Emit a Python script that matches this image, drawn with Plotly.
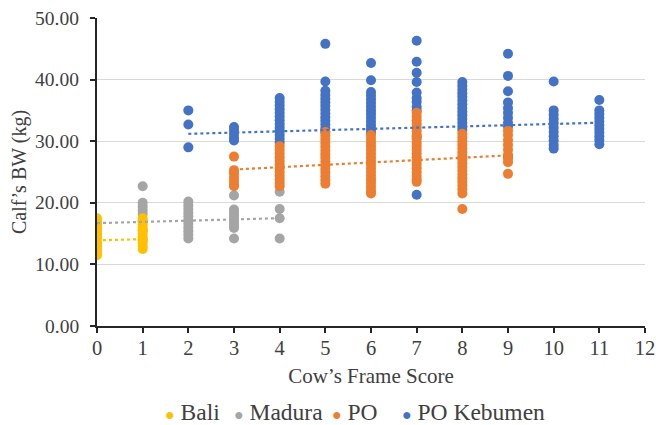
import plotly.graph_objects as go

# ---- data ----
bali_fs = [0, 1]
bali_bw = [
    [17.5, 17.0, 16.5, 16.0, 15.5, 15.0, 14.5, 14.0, 13.5, 13.0, 12.5, 12.0, 11.5],
    [17.5, 17.0, 16.5, 16.0, 15.5, 15.0, 14.5, 14.0, 13.5, 13.0, 12.5],
]

madura_fs = [0, 1, 2, 3, 4]
madura_bw = [
    [16.5, 15.5, 14.5, 13.5],
    [22.7, 20.0, 19.4, 18.8, 18.2, 17.0, 15.5, 14.0],
    [20.2, 19.6, 19.0, 18.4, 17.8, 17.2, 16.6, 16.0, 15.4, 14.8, 14.2],
    [21.2, 18.9, 18.4, 17.9, 17.4, 16.9, 16.4, 15.9, 14.2],
    [21.8, 19.0, 17.5, 14.2],
]

po_fs = [3, 4, 5, 6, 7, 8, 9]
po_bw = [
    [27.5, 25.3, 24.8, 24.2, 23.6, 23.0, 22.7],
    [29.2, 28.6, 28.0, 27.4, 26.8, 26.2, 25.6, 25.0, 24.4, 23.8, 23.2, 22.7],
    [31.5, 30.9, 30.3, 29.7, 29.1, 28.5, 27.9, 27.3, 26.7, 26.1, 25.5, 24.9, 24.3, 23.7, 23.1],
    [31.0, 30.4, 29.8, 29.2, 28.6, 28.0, 27.4, 26.8, 26.2, 25.6, 25.0, 24.4, 23.8, 23.2, 22.6, 22.0, 21.5],
    [34.6, 34.0, 33.4, 32.8, 32.2, 31.6, 31.0, 30.4, 29.8, 29.2, 28.6, 28.0, 27.4, 26.8, 26.2, 25.6, 25.0, 24.4, 23.8, 23.4],
    [31.2, 30.6, 30.0, 29.4, 28.8, 28.2, 27.6, 27.0, 26.4, 25.8, 25.2, 24.6, 24.0, 23.4, 22.8, 22.2, 21.5, 19.0],
    [31.7, 31.0, 30.2, 29.4, 28.6, 27.8, 27.2, 26.6, 24.7],
]

keb_fs = [2, 3, 4, 5, 6, 7, 8, 9, 10, 11]
keb_bw = [
    [35.0, 32.7, 29.0],
    [32.3, 31.8, 31.2, 30.6, 30.1],
    [37.0, 36.4, 35.8, 35.2, 34.6, 34.0, 33.4, 32.8, 32.2, 31.6, 31.0, 30.4, 29.8],
    [45.8, 39.7, 38.2, 37.5, 36.9, 36.3, 35.7, 35.1, 34.5, 33.9, 33.3, 32.7, 32.1, 31.5],
    [42.7, 39.9, 38.0, 37.4, 36.8, 36.2, 35.6, 35.0, 34.4, 33.8, 33.2, 32.6, 32.0, 31.4],
    [46.3, 42.9, 41.1, 39.6, 37.9, 37.0, 36.4, 35.6, 35.0, 30.7, 21.3],
    [39.6, 39.0, 38.4, 37.8, 37.2, 36.6, 36.0, 35.4, 34.8, 34.2, 33.6, 33.0, 32.4, 31.8],
    [44.2, 40.6, 38.1, 36.3, 35.4, 34.6, 33.8, 33.0, 32.4, 27.5],
    [39.7, 35.0, 34.3, 33.6, 32.9, 32.2, 31.5, 30.8, 30.1, 29.4, 28.8],
    [36.7, 35.0, 34.4, 33.8, 33.2, 32.6, 32.0, 31.4, 30.8, 30.2, 29.5],
]

# linear trend lines (end points)
bali_trend_x, bali_trend_y = [0, 1], [13.9, 14.1]
madura_trend_x, madura_trend_y = [0, 4], [16.7, 17.5]
po_trend_x, po_trend_y = [3, 9], [25.4, 27.7]
keb_trend_x, keb_trend_y = [2, 11], [31.2, 33.0]

series_names = ["Bali", "Madura", "PO", "PO Kebumen"]
colors = ["#FFC000", "#A5A5A5", "#ED7D31", "#4472C4"]

x_ticks = list(range(0, 13))
y_ticks = [0, 10, 20, 30, 40, 50]
y_tick_labels = ["0.00", "10.00", "20.00", "30.00", "40.00", "50.00"]


def expand(fs, bw):
    xs, ys = [], []
    for f, vals in zip(fs, bw):
        xs += [f] * len(vals)
        ys += vals
    return xs, ys


data = {
    "Bali": (bali_fs, bali_bw, bali_trend_x, bali_trend_y),
    "Madura": (madura_fs, madura_bw, madura_trend_x, madura_trend_y),
    "PO": (po_fs, po_bw, po_trend_x, po_trend_y),
    "PO Kebumen": (keb_fs, keb_bw, keb_trend_x, keb_trend_y),
}

fig = go.Figure()
draw_order = ["Madura", "Bali", "PO Kebumen", "PO"]
for name in draw_order:
    i = series_names.index(name)
    fs, bw, _, _ = data[name]
    xs, ys = expand(fs, bw)
    fig.add_trace(go.Scatter(
        x=xs, y=ys, mode="markers", name=name, legendrank=i + 1,
        showlegend=False,
        marker=dict(color=colors[i], size=10, line=dict(width=0)),
    ))

for name in series_names:
    i = series_names.index(name)
    _, _, tx, ty = data[name]
    fig.add_trace(go.Scatter(
        x=tx, y=ty, mode="lines", showlegend=False, hoverinfo="skip",
        line=dict(color=colors[i], width=2.2, dash="dot"),
    ))

font_family = "Liberation Serif, Times New Roman, serif"
text_color = "#404040"
axis_color = "#262626"

W, H = 656, 425
ML, MR, MT, MB = 97, 11, 18, 99
pw = W - ML - MR
ph = H - MT - MB

# y tick labels placed in data coordinates, right-aligned left of the axis
for v, lab in zip(y_ticks, y_tick_labels):
    fig.add_annotation(
        xref="paper", yref="y", x=(81 - ML) / pw, y=v,
        xanchor="right", yanchor="middle", showarrow=False,
        text=lab, font=dict(family=font_family, size=19.5, color=text_color),
    )

# legend drawn as a compact Excel-style row of text items
legend_left_px = [163, 232, 330, 400]
legend_center_y_px = 412
for i, name in enumerate(series_names):
    fig.add_annotation(
        xref="paper", yref="paper",
        x=(legend_left_px[i] - ML) / pw,
        y=(H - MB - legend_center_y_px) / ph,
        xanchor="left", yanchor="middle", showarrow=False,
        text=f"<span style='color:{colors[i]};font-size:16px'>\u25CF</span> {name}",
        font=dict(family=font_family, size=23.5, color=text_color),
    )

# y-axis title
fig.add_annotation(
    xref="paper", yref="paper",
    x=(19 - ML) / pw, y=(H - MB - 172) / ph,
    xanchor="center", yanchor="middle", showarrow=False, textangle=-90,
    text="Calf\u2019s BW (kg)",
    font=dict(family=font_family, size=20, color=text_color),
)

fig.update_layout(
    width=W, height=H,
    margin=dict(l=ML, r=MR, t=MT, b=MB, autoexpand=False),
    paper_bgcolor="white", plot_bgcolor="white",
    font=dict(family=font_family, size=20, color=text_color),
    showlegend=False,
    xaxis=dict(
        range=[0, 12], tickvals=x_ticks, showgrid=False, zeroline=False,
        showline=True, linecolor=axis_color, linewidth=2,
        ticks="outside", ticklen=5, tickwidth=1.5, tickcolor=axis_color,
        tickfont=dict(family=font_family, size=20.5, color=text_color),
        ticklabelstandoff=-3, automargin=False, fixedrange=True,
        title=dict(text="Cow\u2019s Frame Score",
                   font=dict(family=font_family, size=21, color=text_color),
                   standoff=11),
    ),
    yaxis=dict(
        range=[0, 50], tickvals=y_ticks, showticklabels=False,
        showgrid=True, gridcolor="#d9d9d9", gridwidth=1, zeroline=False,
        showline=True, linecolor=axis_color, linewidth=2,
        ticks="outside", ticklen=5, tickwidth=1.5, tickcolor=axis_color,
        automargin=False, fixedrange=True,
    ),
)

fig.write_html("out.html")
